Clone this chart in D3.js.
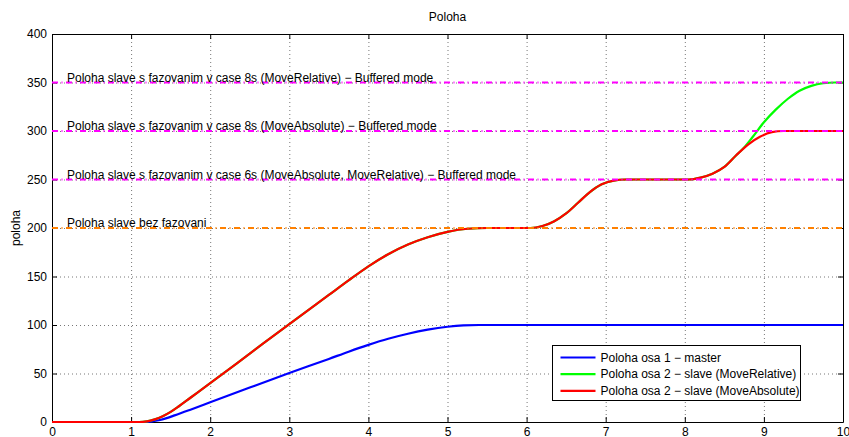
<!DOCTYPE html>
<html><head><meta charset="utf-8">
<script src="https://cdn.jsdelivr.net/npm/d3@7"></script>
<style>
body{margin:0;background:#fff;}
text{font-family:"Liberation Sans",Arial,sans-serif;}
</style></head>
<body><svg id="c" width="849" height="437"></svg>
<script>
const titleText = "Poloha";
const yLabel = "poloha";
const xTicks = [0,1,2,3,4,5,6,7,8,9,10];
const yTicks = [0,50,100,150,200,250,300,350,400];

// master (blue)
const masterT = [0,1.15,1.25,1.35,1.45,1.55,1.75,2,2.5,3,3.5,3.75,4,4.25,4.5,4.75,5,5.2,5.4,10];
const masterV = [0,0,0.4,1.8,4,6.8,12.7,20.3,35.5,50.5,65,72.5,79.5,85.8,91,95.2,98.2,99.6,100,100];
// slave MoveAbsolute (red)
const slaveAbsT = [0,1.1,1.2,1.3,1.4,1.5,1.6,1.75,2,2.5,3,3.5,3.75,4,4.25,4.5,4.75,5,5.25,5.5,6.05,6.2,6.35,6.5,6.65,6.8,6.95,7.1,7.25,8.05,8.2,8.35,8.5,8.65,8.8,8.95,9.1,9.25,10];
const slaveAbsV = [0,0,0.6,2.7,6,10.5,16,25,40,70.5,101,131,146,160.5,173,183,190.5,196,199.2,200,200,202,207,215,226,237,245,248.8,250,250,252,256,263,275,286,294,298.8,300,300];
// slave MoveRelative (green) - same until divergence
const slaveRelT = [0,1.1,1.2,1.3,1.4,1.5,1.6,1.75,2,2.5,3,3.5,3.75,4,4.25,4.5,4.75,5,5.25,5.5,6.05,6.2,6.35,6.5,6.65,6.75,6.8,6.95,7.1,7.25,8.05,8.2,8.35,8.5,8.65,8.75,8.85,9.0,9.15,9.3,9.45,9.6,9.75,9.9,10];
const slaveRelV = [0,0,0.6,2.7,6,10.5,16,25,40,70.5,101,131,146,160.5,173,183,190.5,196,199.2,200,200,202,207,215,226,233.5,237,245,248.8,250,250,252,256,263,275,283,293,309,322,333,341.5,346.5,349.2,350,350];

const refValues = [350,300,250,200];
const refColors = ["#ff00ff","#ff00ff","#ff00ff","#ff8000"];
const refLabels = [
  "Poloha slave s fazovanim v case 8s (MoveRelative)  \u2212  Buffered mode",
  "Poloha slave s fazovanim v case 8s (MoveAbsolute)  \u2212  Buffered mode",
  "Poloha slave s fazovanim v case 6s (MoveAbsolute, MoveRelative) \u2212  Buffered mode",
  "Poloha slave bez fazovani"
];
const legendLabels = ["Poloha osa 1 \u2212  master","Poloha osa 2 \u2212  slave (MoveRelative)","Poloha osa 2 \u2212  slave (MoveAbsolute)"];
const seriesColors = ["#0000ff","#00ff00","#ff0000"];

const svg = d3.select("#c");
const x = d3.scaleLinear().domain([0,10]).range([52,843]);
const y = d3.scaleLinear().domain([0,400]).range([422,34]);

// grid
const grid = svg.append("g");
grid.selectAll("line.gx").data(xTicks.slice(1,-1)).join("line")
  .attr("x1",d=>x(d)+0.5).attr("x2",d=>x(d)+0.5).attr("y1",y(400)).attr("y2",y(0))
  .attr("stroke","#777").attr("stroke-dasharray","1,3");
grid.selectAll("line.gy").data(yTicks.slice(1,-1)).join("line")
  .attr("y1",d=>y(d)+0.5).attr("y2",d=>y(d)+0.5).attr("x1",x(0)).attr("x2",x(10))
  .attr("stroke","#777").attr("stroke-dasharray","1,3");

// axes
const fs = "12px";
const bx = svg.append("g").attr("transform",`translate(0,${y(0)})`)
  .call(d3.axisBottom(x).tickValues(xTicks).tickFormat(d3.format("d")).tickSizeInner(-5).tickSizeOuter(0).tickPadding(5));
const lx = svg.append("g").attr("transform",`translate(${x(0)},0)`)
  .call(d3.axisLeft(y).tickValues(yTicks).tickFormat(d3.format("d")).tickSizeInner(-5).tickSizeOuter(0).tickPadding(5));
const tx = svg.append("g").attr("transform",`translate(0,${y(400)})`)
  .call(d3.axisTop(x).tickValues(xTicks).tickFormat("").tickSizeInner(-5).tickSizeOuter(0));
const rx = svg.append("g").attr("transform",`translate(${x(10)},0)`)
  .call(d3.axisRight(y).tickValues(yTicks).tickFormat("").tickSizeInner(-5).tickSizeOuter(0));
[bx,lx,tx,rx].forEach(g=>{
  g.selectAll("text").attr("font-size",fs).attr("fill","#000").attr("font-family","Liberation Sans, Arial, sans-serif");
  g.select(".domain").attr("stroke","#000");
  g.selectAll(".tick line").attr("stroke","#000");
});

// curves
const line = d3.line().x(d=>x(d[0])).y(d=>y(d[1])).curve(d3.curveMonotoneX);
const series = [
  d3.zip(masterT, masterV),
  d3.zip(slaveRelT, slaveRelV),
  d3.zip(slaveAbsT, slaveAbsV)
];
svg.append("g").selectAll("path").data(series).join("path")
  .attr("d",line).attr("fill","none").attr("stroke",(d,i)=>seriesColors[i]).attr("stroke-width",2.2)
  .attr("stroke-linejoin","round");

// reference lines
svg.append("g").selectAll("line").data(refValues).join("line")
  .attr("x1",x(0)).attr("x2",x(10)).attr("y1",d=>y(d)).attr("y2",d=>y(d))
  .attr("stroke",(d,i)=>refColors[i]).attr("stroke-width",2)
  .attr("stroke-dasharray","6,3.5,1,3.5");
svg.append("g").selectAll("text").data(refValues).join("text")
  .attr("x",67).attr("y",d=>y(d)-1).attr("font-size",fs).attr("fill","#000")
  .text((d,i)=>refLabels[i]);

// title & y label
svg.append("text").attr("x",(x(0)+x(10))/2).attr("y",21).attr("text-anchor","middle")
  .attr("font-size",fs).text(titleText);
svg.append("text").attr("transform",`translate(20,${(y(0)+y(400))/2}) rotate(-90)`)
  .attr("text-anchor","middle").attr("font-size",fs).text(yLabel);

// legend
const lg = svg.append("g").attr("transform","translate(552.5,345.5)");
lg.append("rect").attr("width",248).attr("height",55).attr("fill","#fff").attr("stroke","#000");
const rows = lg.selectAll("g").data(legendLabels).join("g")
  .attr("transform",(d,i)=>`translate(0,${12+i*16.7})`);
rows.append("line").attr("x1",8).attr("x2",43).attr("stroke",(d,i)=>seriesColors[i]).attr("stroke-width",2.2);
rows.append("text").attr("x",48).attr("dy","0.35em").attr("font-size",fs).text(d=>d);
</script></body></html>
